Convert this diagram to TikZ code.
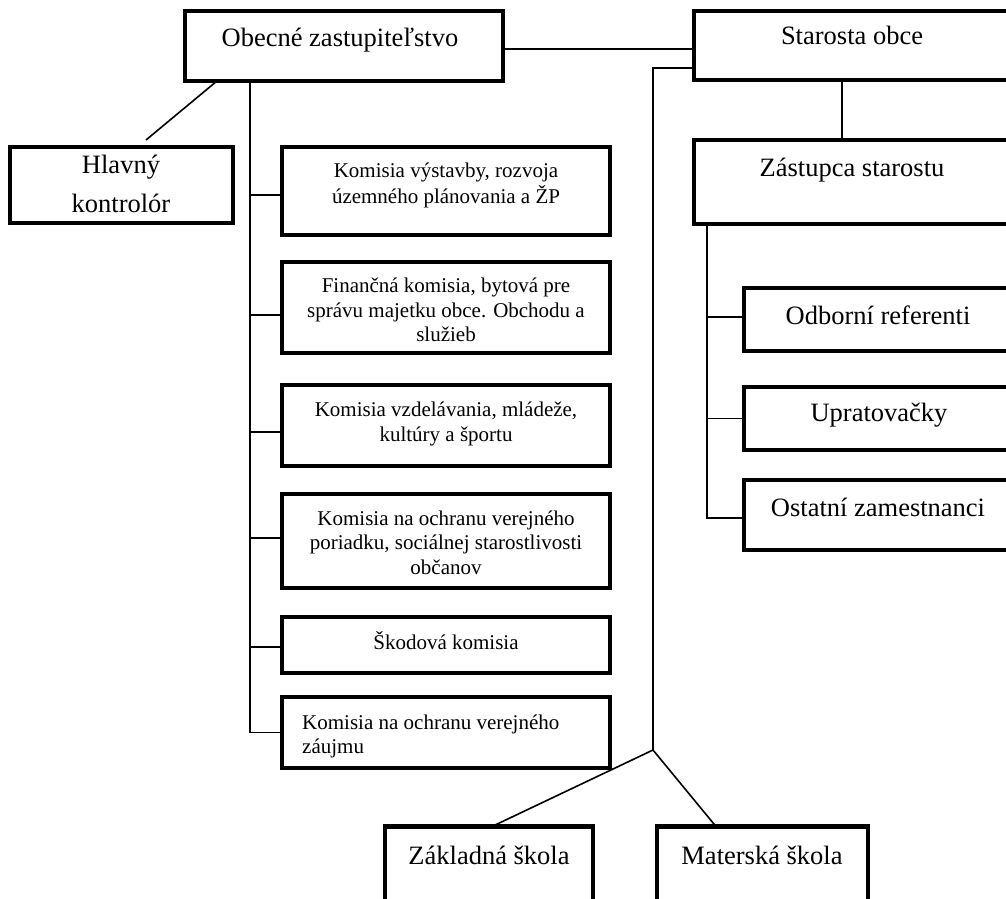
\documentclass[tikz,border=0pt]{standalone}
\usepackage{fontspec}
\setmainfont{Liberation Serif}
\newcommand\bigfnt{\fontsize{26.5}{39}\selectfont}
\newcommand\smfnt{\fontsize{21}{24.5}\selectfont}
\tikzset{
  box/.style={draw, line width=4.5pt, inner sep=0pt, outer sep=0pt, fill=white},
  conn/.style={draw, line width=1.6pt},
  bigt/.style={font=\bigfnt, anchor=base, inner sep=0pt},
  smt/.style={font=\smfnt, anchor=base, inner sep=0pt},
}
\begin{document}
\begin{tikzpicture}[x=1pt,y=1pt]
\useasboundingbox (0,0) rectangle (1006,898);
\fill[white] (0,0) rectangle (1006,898);
\clip (0,0) rectangle (1006,898);

% boxes
\node[box, minimum width=318pt, minimum height=70pt] (obz) at (344,852) {};
\node[box, minimum width=318pt, minimum height=69pt] (sta) at (853,852.5) {};
\node[box, minimum width=318pt, minimum height=84pt] (zas) at (853,716) {};
\node[box, minimum width=223pt, minimum height=76pt] (hk) at (121.5,713) {};
\node[box, minimum width=328pt, minimum height=88pt] (k1) at (446,707) {};
\node[box, minimum width=328pt, minimum height=91pt] (k2) at (446,590.5) {};
\node[box, minimum width=328pt, minimum height=81pt] (k3) at (446,472.5) {};
\node[box, minimum width=328pt, minimum height=94pt] (k4) at (446,357) {};
\node[box, minimum width=328pt, minimum height=56pt] (k5) at (446,253) {};
\node[box, minimum width=328pt, minimum height=71pt] (k6) at (446,165.5) {};
\node[box, minimum width=270pt, minimum height=63pt] (odb) at (879,578.5) {};
\node[box, minimum width=270pt, minimum height=63pt] (upr) at (879,479.5) {};
\node[box, minimum width=270pt, minimum height=70pt] (ost) at (879,383) {};
\node[box, minimum width=208pt, minimum height=83pt] (zs) at (489,30) {};
\node[box, minimum width=211pt, minimum height=83pt] (ms) at (762.5,30) {};

% texts
\node[bigt] (obz-t) at (340,851) {Obecné zastupiteľstvo};
\node[bigt] (sta-t) at (852,853) {Starosta obce};
\node[bigt] (zas-t) at (852,721) {Zástupca starostu};
\node[bigt] (hk-t) at (121,724) {\begin{tabular}[t]{@{}c@{}}Hlavný\\kontrolór\end{tabular}};
\node[smt] (k1-t) at (446,720) {\begin{tabular}[t]{@{}c@{}}Komisia výstavby, rozvoja\\územného plánovania a ŽP\end{tabular}};
\node[smt] (k2-t) at (446,605) {\begin{tabular}[t]{@{}c@{}}Finančná komisia, bytová pre\\správu majetku obce. Obchodu a\\služieb\end{tabular}};
\node[smt] (k3-t) at (446,481) {\begin{tabular}[t]{@{}c@{}}Komisia vzdelávania, mládeže,\\kultúry a športu\end{tabular}};
\node[smt] (k4-t) at (446,373) {\begin{tabular}[t]{@{}c@{}}Komisia na ochranu verejného\\poriadku, sociálnej starostlivosti\\občanov\end{tabular}};
\node[smt] (k5-t) at (446,249) {Škodová komisia};
\node[smt, anchor=base west] (k6-t) at (302,169) {\begin{tabular}[t]{@{}l@{}}Komisia na ochranu verejného\\záujmu\end{tabular}};
\node[bigt] (odb-t) at (878,573) {Odborní referenti};
\node[bigt] (upr-t) at (879,476) {Upratovačky};
\node[bigt] (ost-t) at (878,382) {Ostatní zamestnanci};
\node[bigt] (zs-t) at (489,34) {Základná škola};
\node[bigt] (ms-t) at (762,34) {Materská škola};

% junction coordinates
\coordinate (jR) at (653,148);
\coordinate (hkc) at (146,758);
\coordinate (jL) at ([xshift=-94pt]obz.south);
\coordinate (jZ) at ([xshift=-146pt]zas.south);

% connectors
\draw[conn] ([yshift=-3pt]obz.east) -- ([yshift=-3pt]obz.east -| sta.west);
\draw[conn] ([yshift=-22.5pt]sta.west) -| (jR);
\draw[conn] (jR) -- ([xshift=3pt]zs.north);
\draw[conn] (jR) -- ([xshift=-46.5pt]ms.north);
\draw[conn] ([xshift=-11pt]sta.south) -- ([xshift=-11pt]zas.north);
\draw[conn] ([xshift=-127pt]obz.south) -- (hkc);

\draw[conn] (jL) |- (k6.west);
\draw[conn] ([yshift=-4pt]k1.west) -- ([yshift=-4pt]k1.west -| jL);
\draw[conn] ([yshift=-7.5pt]k2.west) -- ([yshift=-7.5pt]k2.west -| jL);
\draw[conn] ([yshift=-6.5pt]k3.west) -- ([yshift=-6.5pt]k3.west -| jL);
\draw[conn] ([yshift=3pt]k4.west) -- ([yshift=3pt]k4.west -| jL);
\draw[conn] ([yshift=-2pt]k5.west) -- ([yshift=-2pt]k5.west -| jL);

\draw[conn] (jZ) |- ([yshift=-3pt]ost.west);
\draw[conn] ([yshift=2.5pt]odb.west) -- ([yshift=2.5pt]odb.west -| jZ);
\draw[conn] (upr.west) -- (upr.west -| jZ);
\end{tikzpicture}
\end{document}
